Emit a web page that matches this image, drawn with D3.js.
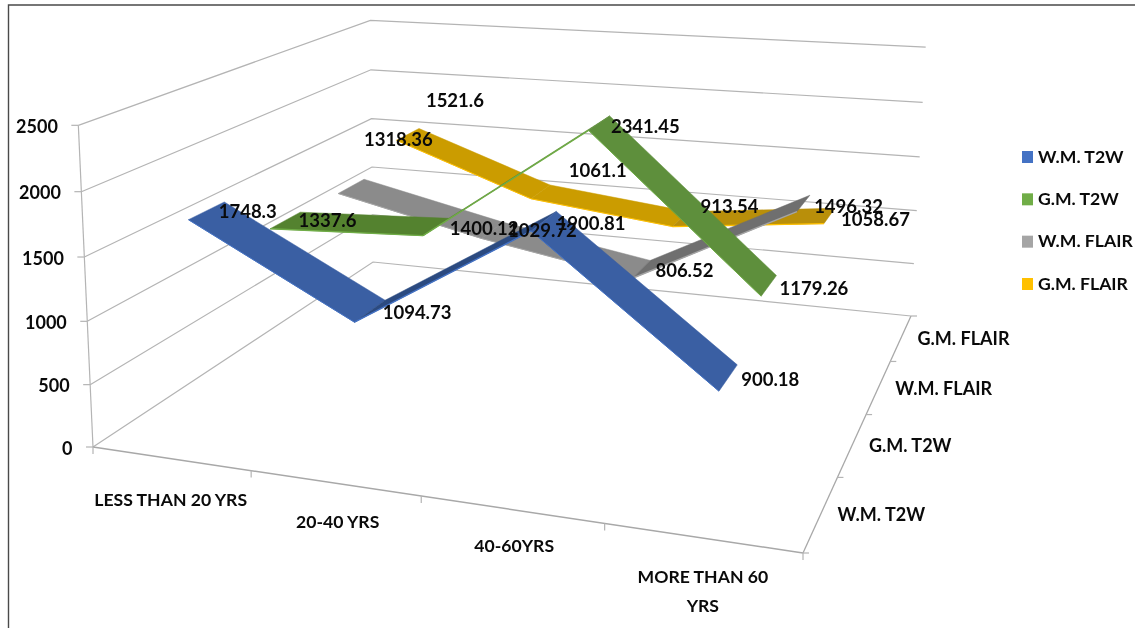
<!DOCTYPE html>
<html><head><meta charset="utf-8">
<script src="https://cdn.jsdelivr.net/npm/d3@7"></script>
<style>html,body{margin:0;padding:0;background:#fff}svg{display:block;filter:blur(0.35px)}text{font-family:Lato,"Open Sans",sans-serif;font-weight:700;fill:#0a0a0a;font-size:18px}</style>
</head><body><svg id="c" width="1135" height="628"></svg>
<script>
const categories=["LESS THAN 20 YRS","20-40 YRS","40-60YRS","MORE THAN 60 YRS"];
const seriesNames=["W.M. T2W","G.M. T2W","W.M. FLAIR","G.M. FLAIR"];
const wmT2w=[1748.3,1094.73,1900.81,900.18];
const gmT2w=[1337.6,1400.12,2341.45,1179.26];
const wmFlair=[1318.36,1029.72,806.52,1496.32];
const gmFlair=[1521.6,1061.1,913.54,1058.67];
const seriesValues=[wmT2w,gmT2w,wmFlair,gmFlair];
const valueTicks=[0,500,1000,1500,2000,2500];

const fills=["#3A5FA3","#5E8F3C","#8B8B8B","#CB9C00"];
const darks=["#2B4A80","#54822F","#6F6F6F","#B98F0A"];
const edges=["#4472C4","#70AD47","#A5A5A5","#FFC000"];
const legendCols=["#4472C4","#70AD47","#A5A5A5","#FFC000"];

function solve(A,b){const n=b.length,M=A.map((r,i)=>[...r,b[i]]);
 for(let c=0;c<n;c++){let p=c;for(let r=c+1;r<n;r++)if(Math.abs(M[r][c])>Math.abs(M[p][c]))p=r;
  [M[c],M[p]]=[M[p],M[c]];
  for(let r=0;r<n;r++)if(r!==c){const f=M[r][c]/M[c][c];for(let k=c;k<=n;k++)M[r][k]-=f*M[c][k];}}
 return M.map((r,i)=>r[n]/r[i]);}
// camera of the box: [u,v,w,screenX,screenY] for its visible corners
const floorAnchors=[[0,0,93,447],[1,0,803,553],[1,1,911,316],[0,1,373,262]];
const topAnchors=[[0,0,77,124],[0,1,372,17],[1,1,925,52]];
const FA=[],Fb=[];
floorAnchors.forEach(([u,v,x,y])=>{FA.push([u,v,1,0,0,0,-x*u,-x*v]);Fb.push(x);FA.push([0,0,0,u,v,1,-y*u,-y*v]);Fb.push(y);});
const [a,b,d,e,f,l,g,h]=solve(FA,Fb);
const TA=[],Tb=[];
topAnchors.forEach(([u,v,x,y])=>{const D=g*u+h*v+1;
 TA.push([1,0,-x]);Tb.push(x*D-(a*u+b*v+d));
 TA.push([0,1,-y]);Tb.push(y*D-(e*u+f*v+l));});
const N=[0,1,2].map(i=>[0,1,2].map(j=>d3.sum(TA,r=>r[i]*r[j])));
const Nb=[0,1,2].map(i=>d3.sum(TA,(r,k)=>r[i]*Tb[k]));
const [c,k,iw]=solve(N,Nb);
function proj(u,v,w){const D=g*u+h*v+iw*w+1;return [(a*u+b*v+c*w+d)/D,(e*u+f*v+k*w+l)/D];}

const uScale=d3.scaleBand().domain(categories).range([0,1]);
const vScale=d3.scaleBand().domain(seriesNames).range([0,1]);
const wScale=d3.scaleLinear().domain([0,2500]).range([0,1]);
const uC=n=>uScale(n)+uScale.bandwidth()/2, vC=n=>vScale(n)+vScale.bandwidth()/2;
const HALF=0.053;

const svg=d3.select("#c");
const grid="#B4B4B4";
const seg=(p,q,col,w)=>svg.append("line").attr("x1",p[0]).attr("y1",p[1]).attr("x2",q[0]).attr("y2",q[1]).attr("stroke",col||grid).attr("stroke-width",w||1.2);
const add=(p,dx,dy)=>[p[0]+dx,p[1]+dy];

// frame
svg.append("path").attr("d","M8.5,628V5H1135").attr("fill","none").attr("stroke","#4a4a4a").attr("stroke-width",1.4);

// walls
valueTicks.forEach(t=>{const w=wScale(t),p=proj(0,0,w),q=proj(0,1,w),r=proj(1,1,w);
 svg.append("path").attr("d",d3.line()([p,q,r])).attr("fill","none").attr("stroke",grid).attr("stroke-width",1.2);
 seg(add(p,-7,0),p);
 svg.append("text").attr("x",p[0]-20.5).attr("y",p[1]+3).attr("text-anchor","end").attr("dominant-baseline","middle").text(t);
});
seg(proj(0,0,0),proj(0,0,1));
seg(proj(0,0,0),proj(1,0,0),"#A8A8A8",1.5);
seg(proj(1,0,0),proj(1,1,0),"#A8A8A8",1.3);
d3.range(0,5).forEach(i=>{const p=proj(i/4,0,0);seg(p,add(p,0,7));});
d3.range(0,5).forEach(i=>{const p=proj(1,i/4,0);seg(p,add(p,6,0));});

// ribbons, back series first
d3.range(3,-1,-1).forEach(s=>{const name=seriesNames[s],vals=seriesValues[s],v=vC(name);
 for(let i=0;i<3;i++){
  const u0=uC(categories[i]),u1=uC(categories[i+1]),w0=wScale(vals[i]),w1=wScale(vals[i+1]);
  const q=[proj(u0,v-HALF,w0),proj(u0,v+HALF,w0),proj(u1,v+HALF,w1),proj(u1,v-HALF,w1)];
  const rising=w1>w0;
  svg.append("polygon").attr("points",q.map(p=>p.join(",")).join(" ")).attr("fill",rising?darks[s]:fills[s]).attr("stroke",rising?darks[s]:fills[s]).attr("stroke-width",.5);
  svg.append("path").attr("d",d3.line()([q[0],q[3]])).attr("stroke",edges[s]).attr("stroke-width",rising?1.4:1).attr("fill","none");
 }
});

// data labels: each sits beside its ribbon point, moved by a hand-read nudge
const labelNudge=[[[41,3],[47,3],[47,4],[42,4]],[[42,2],[48,3],[46,5],[45,5]],[[47,-45],[50,2],[43,3],[45,5]],[[47,-32],[57,-20],[49,-11],[46,5]]];
seriesValues.forEach((vals,s)=>vals.forEach((val,i)=>{
 const p=proj(uC(categories[i]),vC(seriesNames[s]),wScale(val)),n=labelNudge[s][i];
 svg.append("text").attr("x",p[0]+n[0]).attr("y",p[1]+n[1]).attr("text-anchor","middle").attr("dominant-baseline","middle").style("font-size","18.5px").text(val);
}));

// category axis labels
const catDx=[0,3,3,1], catDy=[43,40,38,40];
categories.forEach((cat,i)=>{const p=proj(uC(cat),0,0),x=p[0]+catDx[i],y=p[1]+catDy[i];
 const t=svg.append("text").attr("x",x).attr("y",y).attr("text-anchor","middle").attr("dominant-baseline","middle").style("font-size","17.6px");
 if(i===3){t.append("tspan").attr("x",x).text("MORE THAN 60");t.append("tspan").attr("x",x).attr("dy",29).text("YRS");}
 else t.text(cat);
});
// depth axis labels
seriesNames.forEach(n=>{const p=proj(1,vC(n),0);
 svg.append("text").attr("x",p[0]+16.5).attr("y",p[1]+3).attr("dominant-baseline","middle").text(n);});

// legend
const legY=d3.scalePoint().domain(seriesNames).range([157,284]);
seriesNames.forEach((n,s)=>{svg.append("rect").attr("x",1022).attr("y",legY(n)-6).attr("width",11).attr("height",12).attr("fill",legendCols[s]);
 svg.append("text").attr("x",1038).attr("y",legY(n)+1).attr("dominant-baseline","middle").style("font-size","17.6px").text(n);});
</script></body></html>
